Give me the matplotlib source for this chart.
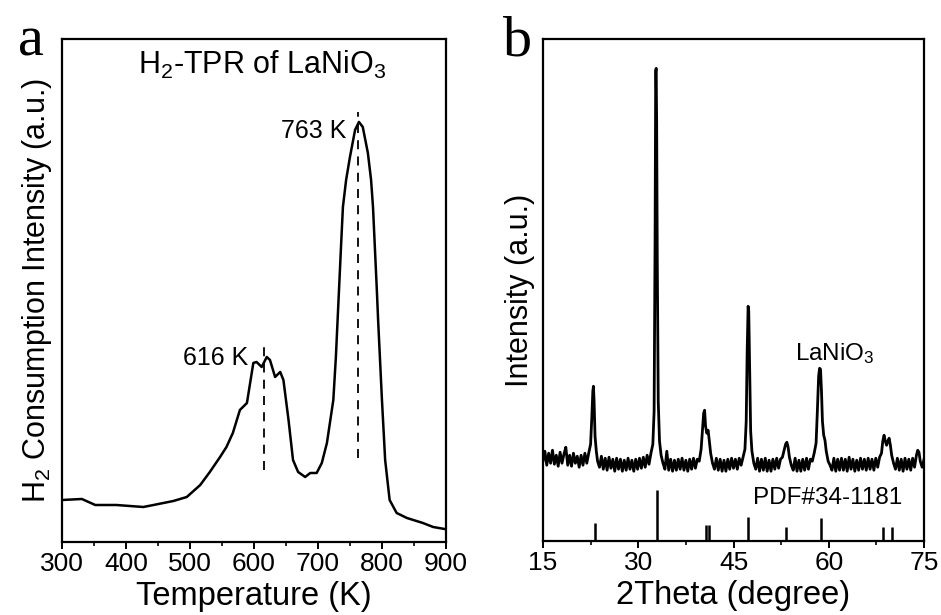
#!/usr/bin/env python3
import matplotlib
matplotlib.use("Agg")
import matplotlib.pyplot as plt
import numpy as np

plt.rcParams['font.family'] = ['Liberation Sans', 'DejaVu Sans']
plt.rcParams['mathtext.default'] = 'regular'

# --- panel a: H2-TPR (temperature K, intensity a.u.) ---
tpr_T = [300, 331, 352, 385, 427, 443, 474, 495, 516, 531, 547, 557, 567, 578,
         589, 599, 604, 612, 620, 625, 633, 641, 646, 654, 661, 669, 680, 688,
         698, 706, 714, 724, 728, 732, 736, 739, 744, 750, 758, 764, 770, 778,
         783, 786, 792, 794, 800, 805, 812, 823, 839, 864, 880, 898]
tpr_I = [42, 43, 37, 37, 35, 37, 41, 45, 57, 70, 85, 95, 109, 132,
         139, 179, 180, 175, 185, 182, 165, 170, 162, 122, 82, 70, 65, 69,
         69, 79, 99, 142, 185, 240, 295, 335, 362, 385, 412, 420, 415, 389,
         362, 335, 252, 222, 142, 82, 42, 29, 24, 19, 15, 13]
peak_T = [616, 763]
peak_lo = [72, 84]
peak_hi = [202, 430]

# --- panel b: XRD ---
xrd_2t = [15.0, 15.3, 15.6, 15.9, 16.2, 16.5, 16.8, 17.1, 17.4, 17.7, 18.0, 18.3,
          18.6, 18.9, 19.2, 19.5, 19.8, 20.1, 20.4, 20.7, 21.0, 21.3, 21.6, 21.9,
          22.2, 22.5, 22.7, 22.85, 22.95, 23.05, 23.2, 23.4, 23.6, 23.9, 24.2, 24.5,
          24.8, 25.1, 25.4, 25.7, 26.0, 26.3, 26.6, 26.9, 27.2, 27.5, 27.8, 28.1,
          28.4, 28.7, 29.0, 29.3, 29.6, 29.9, 30.2, 30.5, 30.8, 31.1, 31.4, 31.7,
          32.0, 32.3, 32.5, 32.65, 32.75, 32.82, 32.9, 33.0, 33.15, 33.35, 33.6, 33.9,
          34.2, 34.5, 34.8, 35.1, 35.4, 35.7, 36.0, 36.3, 36.6, 36.9, 37.2, 37.5,
          37.8, 38.1, 38.4, 38.7, 39.0, 39.3, 39.6, 39.9, 40.1, 40.3, 40.45, 40.6,
          40.8, 41.0, 41.2, 41.4, 41.7, 42.0, 42.3, 42.6, 42.9, 43.2, 43.5, 43.8,
          44.1, 44.4, 44.7, 45.0, 45.3, 45.6, 45.9, 46.2, 46.5, 46.8, 47.0, 47.15,
          47.3, 47.4, 47.55, 47.7, 47.9, 48.2, 48.5, 48.8, 49.1, 49.4, 49.7, 50.0,
          50.3, 50.6, 50.9, 51.2, 51.5, 51.8, 52.1, 52.4, 52.7, 53.0, 53.2, 53.4,
          53.6, 53.8, 54.1, 54.4, 54.7, 55.0, 55.3, 55.6, 55.9, 56.2, 56.5, 56.8,
          57.1, 57.4, 57.7, 58.0, 58.2, 58.4, 58.55, 58.7, 58.85, 59.0, 59.2, 59.4,
          59.6, 59.9, 60.2, 60.5, 60.8, 61.1, 61.4, 61.7, 62.0, 62.3, 62.6, 62.9,
          63.2, 63.5, 63.8, 64.1, 64.4, 64.7, 65.0, 65.3, 65.6, 65.9, 66.2, 66.5,
          66.8, 67.1, 67.4, 67.7, 68.0, 68.3, 68.5, 68.7, 68.9, 69.1, 69.3, 69.5,
          69.7, 69.9, 70.2, 70.5, 70.8, 71.1, 71.4, 71.7, 72.0, 72.3, 72.6, 72.9,
          73.2, 73.5, 73.8, 74.0, 74.2, 74.4, 74.7, 75.0]
xrd_I = [80, 90, 76, 88, 78, 91, 77, 86, 75, 89, 78, 87,
         94, 76, 86, 75, 88, 78, 85, 74, 86, 76, 88, 78,
         88, 97, 125, 150, 155, 140, 105, 90, 80, 74, 85, 72,
         83, 71, 84, 73, 82, 70, 83, 72, 82, 70, 81, 71,
         83, 72, 81, 70, 82, 72, 83, 73, 84, 74, 86, 77,
         88, 97, 130, 300, 470, 473, 420, 280, 140, 100, 86, 78,
         72, 90, 71, 82, 70, 81, 71, 82, 72, 83, 71, 81,
         70, 82, 72, 83, 73, 82, 80, 92, 110, 128, 131, 115,
         108, 111, 100, 88, 78, 72, 83, 71, 82, 70, 81, 70,
         82, 72, 83, 73, 82, 72, 83, 76, 84, 92, 120, 190,
         235, 230, 170, 110, 90, 78, 72, 83, 70, 82, 71, 83,
         70, 81, 70, 82, 72, 83, 73, 82, 84, 92, 97, 99,
         94, 84, 76, 71, 83, 70, 81, 70, 82, 71, 83, 72,
         82, 80, 88, 98, 130, 165, 173, 172, 150, 120, 106, 101,
         90, 80, 76, 71, 83, 70, 82, 71, 83, 71, 82, 70,
         84, 72, 82, 70, 81, 71, 83, 72, 82, 71, 83, 72,
         82, 71, 83, 74, 84, 88, 100, 106, 100, 96, 100, 103,
         96, 86, 78, 72, 83, 71, 82, 70, 83, 72, 82, 71,
         83, 74, 86, 91, 89, 80, 74, 82]
pdf_2t = [23.2, 32.9, 40.7, 41.2, 47.3, 53.3, 58.8, 68.5, 70.0]
pdf_I = [18, 51, 16, 16, 24, 14, 23, 14, 14]

fig = plt.figure(figsize=(9.41, 6.15), dpi=100)

def style_axes(ax):
    for s in ax.spines.values():
        s.set_linewidth(1.6)
    ax.tick_params(axis='x', which='major', direction='out', length=5, width=1.4,
                   labelsize=19, pad=2)
    ax.tick_params(axis='x', which='minor', direction='out', length=3, width=1.2)
    ax.set_yticks([])

# panel a
ax1 = fig.add_axes([0.0659, 0.1187, 0.408, 0.818])
ax1.plot(tpr_T, tpr_I, color='black', lw=1.8)
for T, lo, hi in zip(peak_T, peak_lo, peak_hi):
    ax1.plot([T, T], [lo, hi], color='black', lw=1.3, ls=(0, (5, 4)))
ax1.set_xlim(300, 900)
ax1.set_ylim(0, 503)
ax1.set_xticks(np.arange(300, 901, 100))
ax1.set_xticks(np.arange(350, 900, 100), minor=True)
style_axes(ax1)
ax1.set_xlabel('Temperature (K)', fontsize=23.5, labelpad=4)
ax1.set_ylabel(r'H$_2$ Consumption Intensity (a.u.)', fontsize=22, labelpad=6)
ax1.text(0.52, 0.948, r'H$_2$-TPR of LaNiO$_3$', transform=ax1.transAxes,
         ha='center', va='center', fontsize=22)
ax1.text(591, 184, '616 K', ha='right', va='center', fontsize=18)
ax1.text(745, 411, '763 K', ha='right', va='center', fontsize=18)

# panel b
ax2 = fig.add_axes([0.577, 0.120, 0.405, 0.816])
ax2.plot(xrd_2t, xrd_I, color='black', lw=2.0)
ax2.vlines(pdf_2t, 0, pdf_I, color='black', lw=1.8)
ax2.set_xlim(15, 75)
ax2.set_ylim(0, 502)
ax2.set_xticks(np.arange(15, 76, 15))
ax2.set_xticks(np.arange(22.5, 75, 15), minor=True)
style_axes(ax2)
ax2.set_xlabel('2Theta (degree)', fontsize=23.5, labelpad=4)
ax2.set_ylabel('Intensity (a.u.)', fontsize=22, labelpad=6)
ax2.text(54.7, 188, r'LaNiO$_3$', ha='left', va='center', fontsize=17.5)
ax2.text(48.1, 43, 'PDF#34-1181', ha='left', va='center', fontsize=17.5)

fig.text(0.019, 1 - 55 / 615, 'a', family='Liberation Serif', fontsize=42,
         va='baseline', ha='left')
fig.text(0.535, 1 - 55 / 615, 'b', family='Liberation Serif', fontsize=42,
         va='baseline', ha='left')

fig.savefig('out.png', dpi=100)
